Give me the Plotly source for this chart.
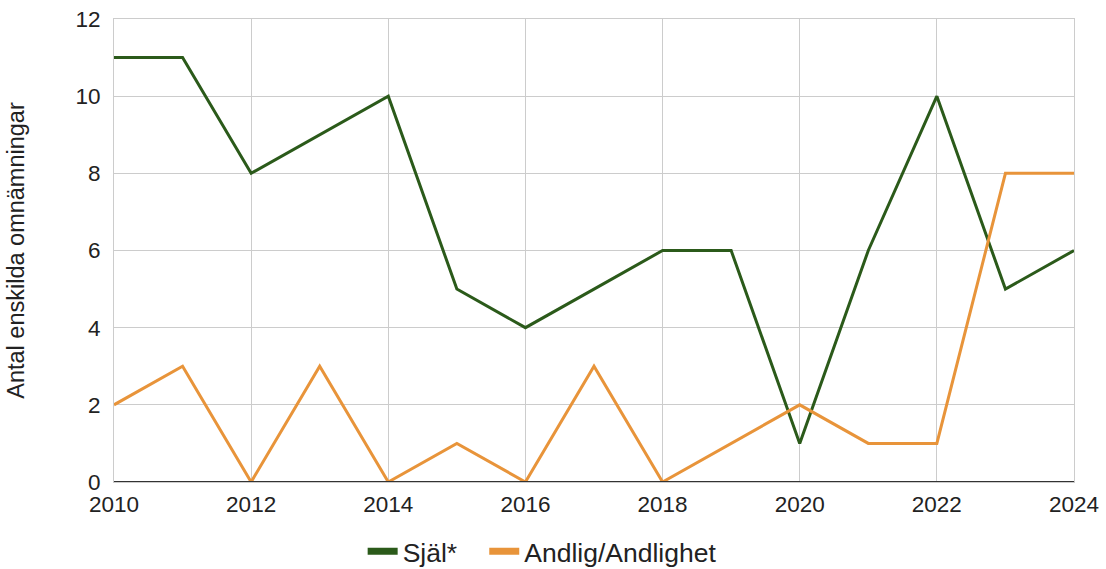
import plotly.graph_objects as go

years = list(range(2010, 2025))
sjal = [11, 11, 8, 9, 10, 5, 4, 5, 6, 6, 1, 6, 10, 5, 6]
andlig = [2, 3, 0, 3, 0, 1, 0, 3, 0, 1, 2, 1, 1, 8, 8]
x_ticks = list(range(2010, 2025, 2))
y_ticks = list(range(0, 13, 2))
names = ["Själ*", "Andlig/Andlighet"]
colors = ["#2b5a1a", "#e8943a"]

fig = go.Figure()
for name, vals, col in zip(names, [sjal, andlig], colors):
    fig.add_trace(go.Scatter(x=years, y=vals, mode="lines", name=name, showlegend=False,
                             line=dict(color=col, width=3)))
# legend-only entries with thicker swatches
legend_labels = [names[0] + "\u00a0\u00a0\u00a0", names[1]]
for name, col in zip(legend_labels, colors):
    fig.add_trace(go.Scatter(x=[None], y=[None], mode="lines", name=name,
                             line=dict(color=col, width=7)))

fig.update_layout(
    width=1106, height=569,
    margin=dict(l=114, r=32, t=19, b=87, autoexpand=False),
    paper_bgcolor="white", plot_bgcolor="white",
    font=dict(family="Liberation Sans, Arial, sans-serif", size=22, color="#222"),
    showlegend=True,
    legend=dict(orientation="h", x=0.446, xanchor="center", y=-0.15, yanchor="middle",
                font=dict(size=26.5), traceorder="normal"),
    xaxis=dict(range=[2010, 2024], tickvals=x_ticks, showgrid=True, gridcolor="#cccccc",
               gridwidth=1, zeroline=False, showline=True, linecolor="#cccccc",
               mirror=True, ticks="outside", ticklen=2, tickcolor="white",
               tickfont=dict(size=22.5), automargin=False),
    yaxis=dict(range=[0, 12], tickvals=y_ticks, showgrid=True, gridcolor="#cccccc",
               gridwidth=1, zeroline=False, showline=True, linecolor="#cccccc", mirror=True,
               ticks="outside", ticklen=8, tickcolor="white", automargin=False,
               title=dict(text="Antal enskilda omnämningar", font=dict(size=23.5), standoff=44),
               tickfont=dict(size=22.5)),
)
fig.add_shape(type="line", xref="paper", yref="y", x0=0, x1=1, y0=0, y1=0,
              line=dict(color="#333333", width=2))

fig.write_html("out.html", config={"displayModeBar": False},
               post_script="document.body.style.margin='0';")
